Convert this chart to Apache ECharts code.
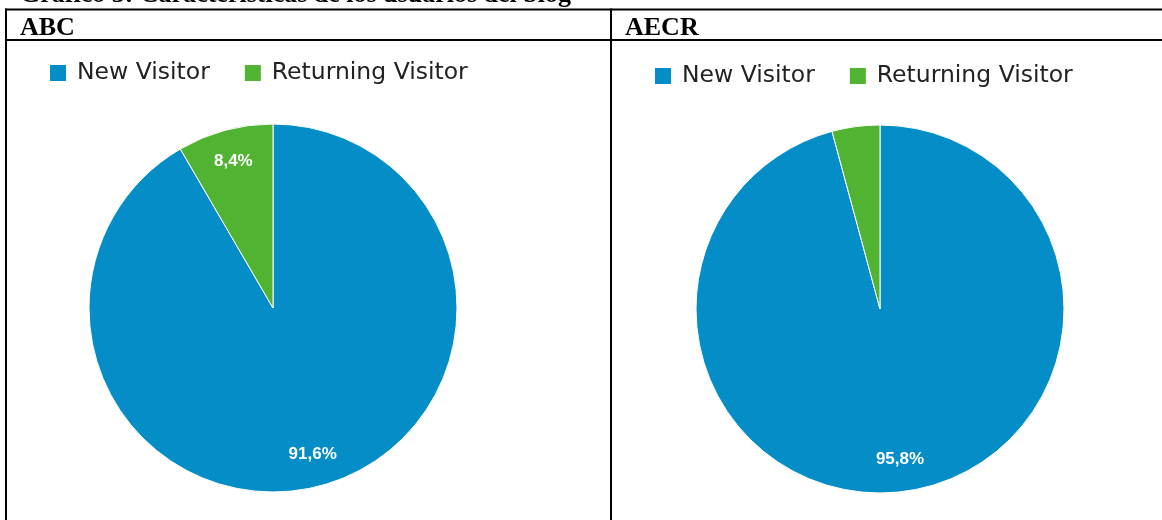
<!DOCTYPE html>
<html>
<head>
<meta charset="utf-8">
<script src="https://cdn.jsdelivr.net/npm/echarts@6/dist/echarts.min.js"></script>
<style>
html,body{margin:0;padding:0;background:#fff;}
#chart{width:1162px;height:520px;}
</style>
</head>
<body>
<div id="chart"></div>
<script>
const titleText = 'Gráfico 5: Características de los usuarios del blog';
const panelTitles = ['ABC', 'AECR'];
const categories = ['New Visitor', 'Returning Visitor'];
const newVisitor = [91.6, 95.8];
const returningVisitor = [8.4, 4.2];
const showLabel = [[true, true], [true, false]];

const colors = ['#058DC7', '#50B432'];
const centers = [[273, 308], [880, 309]];
const legendPos = [[43, 56], [648, 59]];
const headerX = [20, 625];
const R = 184;

const fmt = p => p.value.toFixed(1).replace('.', ',') + '%';

const series = [];
const legends = [];
for (let i = 0; i < 2; i++) {
  const vals = [newVisitor[i], returningVisitor[i]];
  series.push({
    type: 'pie',
    center: centers[i],
    radius: [0, R],
    startAngle: 90,
    clockwise: true,
    silent: true,
    label: {show: false},
    labelLine: {show: false},
    itemStyle: {borderColor: '#ffffff', borderWidth: 1},
    emphasis: {disabled: true},
    data: categories.map((c, k) => ({name: c, value: vals[k], itemStyle: {color: colors[k]}}))
  });
  series.push({
    type: 'pie',
    center: centers[i],
    radius: [R * 0.62, R],
    startAngle: 90,
    clockwise: true,
    silent: true,
    z: 3,
    labelLine: {show: false},
    itemStyle: {color: 'rgba(0,0,0,0)', borderWidth: 0},
    emphasis: {disabled: true},
    label: {
      show: true,
      position: 'inside',
      formatter: fmt,
      color: '#ffffff',
      fontFamily: '"Liberation Sans", Arial, sans-serif',
      fontSize: 17,
      fontWeight: 'bold'
    },
    data: categories.map((c, k) => ({name: c, value: vals[k], label: {show: showLabel[i][k]}}))
  });
  legends.push({
    left: legendPos[i][0],
    top: legendPos[i][1],
    orient: 'horizontal',
    icon: 'rect',
    itemWidth: 18,
    itemHeight: 18,
    itemGap: 33,
    selectedMode: false,
    textStyle: {fontFamily: '"DejaVu Sans", sans-serif', fontSize: 23.5, color: '#222222', padding: [0, 0, 0, 5]},
    data: categories.map((c, k) => ({name: c, itemStyle: {color: colors[k]}}))
  });
}

const lineStyle = {stroke: '#000', lineWidth: 2};
const graphic = [
  {type: 'text', style: {x: 20, y: -5, text: titleText, font: 'bold 26px "Liberation Serif", "Times New Roman", serif', fill: '#000', verticalAlign: 'middle'}},
  {type: 'line', shape: {x1: 5, y1: 9.5, x2: 1162, y2: 9.5}, style: lineStyle},
  {type: 'line', shape: {x1: 5, y1: 40, x2: 1162, y2: 40}, style: lineStyle},
  {type: 'line', shape: {x1: 6, y1: 8.5, x2: 6, y2: 520}, style: lineStyle},
  {type: 'line', shape: {x1: 611, y1: 8.5, x2: 611, y2: 520}, style: lineStyle}
];
panelTitles.forEach((t, i) => {
  graphic.push({type: 'text', style: {x: headerX[i], y: 28.5, text: t, font: 'bold 26px "Liberation Serif", "Times New Roman", serif', fill: '#000', verticalAlign: 'middle'}});
});

const chart = echarts.init(document.getElementById('chart'), null, {renderer: 'canvas'});
chart.setOption({
  animation: false,
  backgroundColor: '#ffffff',
  legend: legends,
  series: series,
  graphic: graphic
});
</script>
</body>
</html>
